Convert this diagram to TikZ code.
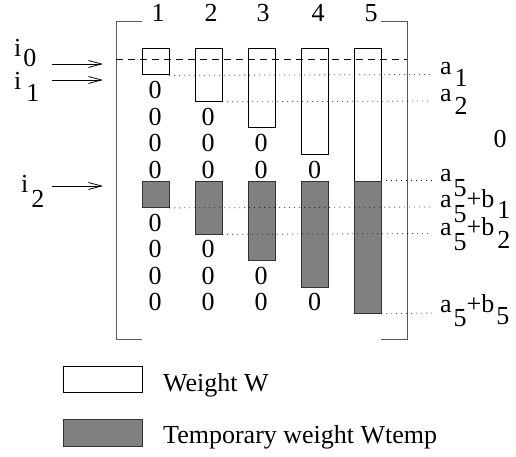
\documentclass[tikz,border=0pt]{standalone}
\usepackage{fontspec}
\setmainfont{Liberation Serif}
\usetikzlibrary{arrows.meta}
\newcommand\lowr[2]{\raisebox{-#1}{#2}}
\begin{document}
\begin{tikzpicture}[x=1pt,y=-1pt,
  every node/.style={font=\fontsize{26}{29}\selectfont, inner sep=0pt},
  txt/.style={anchor=base},
  lbl/.style={anchor=base west},
  wbox/.style={draw=black, line width=0.9pt, fill=white, minimum width=26.5pt, anchor=north west},
  gbox/.style={draw=black!80, line width=0.9pt, fill=black!50, minimum width=26.5pt, anchor=north west},
  brk/.style={draw=black!65, line width=1pt},
  dotl/.style={line width=0.8pt, dash pattern=on 0.8pt off 4.2pt},
  dashl/.style={line width=0.9pt, dash pattern=on 7pt off 5pt},
  arr/.style={line width=0.8pt, -{Straight Barb[length=13pt,width=7pt]}}
]
\useasboundingbox (0,0) rectangle (516,457);
% bracket
\draw[brk] (142,22) -- (116,22) -- (116,339) -- (142,339);
\draw[brk] (381,22) -- (407,22) -- (407,339) -- (381,339);
% column numbers
\node[txt] (c1) at (158,22) {1};
\node[txt] (c2) at (211,22) {2};
\node[txt] (c3) at (263,22) {3};
\node[txt] (c4) at (318,22) {4};
\node[txt] (c5) at (371,22) {5};
% white boxes
\node[wbox, minimum height=26.5pt] (w1) at (142,48) {};
\node[wbox, minimum height=53pt]   (w2) at (195,48) {};
\node[wbox, minimum height=79.5pt] (w3) at (248,48) {};
\node[wbox, minimum height=106pt]  (w4) at (301,48) {};
\node[wbox, minimum height=132.5pt] (w5) at (354,48) {};
% gray boxes
\node[gbox, minimum height=26.5pt] (g1) at (142,180.5) {};
\node[gbox, minimum height=53pt]   (g2) at (195,180.5) {};
\node[gbox, minimum height=79.5pt] (g3) at (248,180.5) {};
\node[gbox, minimum height=106pt]  (g4) at (301,180.5) {};
\node[gbox, minimum height=132.5pt] (g5) at (354,180.5) {};
% zeros
\foreach \x/\rows in {155/{99,125.5,152,178.5,231,257.5,284,310.5},
                      208/{125.5,152,178.5,257.5,284,310.5},
                      261/{152,178.5,284,310.5},
                      314.5/{178.5,310.5}}{
  \foreach \y in \rows { \node[txt] at (\x,\y) {0}; }
}
\node[txt] (z) at (500,148) {0};
% dashed line
\coordinate (dl) at (116,59);
\coordinate (dr) at (407,59);
\draw[dashl] (dl) -- (dr);
% labels on right
\node[lbl] (a1) at (440,75) {a\kern3pt\lowr{12pt}{1}};
\node[lbl] (a2) at (440,102) {a\kern3pt\lowr{13pt}{2}};
\node[lbl] (a5) at (440,182) {a\kern2pt\lowr{15pt}{5}};
\node[lbl] (b1) at (440,207) {a\kern2pt\lowr{15pt}{5}\kern0pt+b\kern3pt\lowr{11pt}{1}};
\node[lbl] (b2) at (440,235) {a\kern2pt\lowr{15pt}{5}\kern0pt+b\kern3pt\lowr{13pt}{2}};
\node[lbl] (b5) at (440,312) {a\kern2pt\lowr{14pt}{5}\kern0pt+b\kern2pt\lowr{12pt}{5}};
% dotted lines
\draw[dotl] (w1.south east) -- (432,74.5);
\draw[dotl] (w2.south east) -- (432,101);
\draw[dotl] (g5.north east) -- (432,180.5);
\draw[dotl] (g1.south east) -- (432,207);
\draw[dotl] (g2.south east) -- (432,233.5);
\draw[dotl] (g5.south east) -- (432,313);
% left labels and arrows
\node[lbl] (i0) at (14,57) {i\kern2pt\lowr{10pt}{0}};
\node[lbl] (i1) at (14,90) {i\kern5pt\lowr{12pt}{1}};
\node[lbl] (i2) at (21,193) {i\kern3pt\lowr{15pt}{2}};
\coordinate (p0) at (52,64);  \coordinate (q0) at (103,64);
\coordinate (p1) at (52,80);  \coordinate (q1) at (103,80);
\coordinate (p2) at (52,186); \coordinate (q2) at (103,186);
\draw[arr] (p0) -- (q0);
\draw[arr] (p1) -- (q1);
\draw[arr] (p2) -- (q2);
% legend
\node[wbox, minimum height=26pt, minimum width=79pt] (lw) at (63,366) {};
\node[gbox, minimum height=27pt, minimum width=79pt] (lg) at (63,419) {};
\node[lbl] (tw) at (163,391) {Weight W};
\node[lbl] (tg) at (163,443) {Temporary weight Wtemp};
\end{tikzpicture}
\end{document}
